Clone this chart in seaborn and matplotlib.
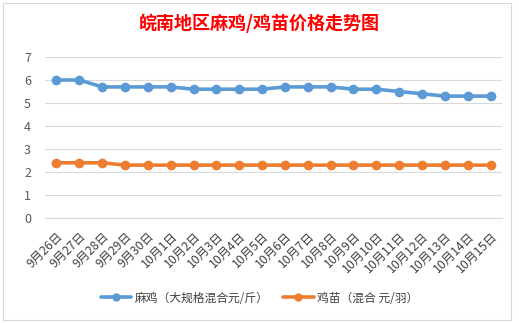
import matplotlib
matplotlib.use("Agg")
import matplotlib.pyplot as plt
import seaborn as sns
import pandas as pd
import numpy as np
from matplotlib.patches import Rectangle
from matplotlib.lines import Line2D

dates = ["9月26日", "9月27日", "9月28日", "9月29日", "9月30日",
         "10月1日", "10月2日", "10月3日", "10月4日", "10月5日",
         "10月6日", "10月7日", "10月8日", "10月9日", "10月10日",
         "10月11日", "10月12日", "10月13日", "10月14日", "10月15日"]
maji = [6.0, 6.0, 5.7, 5.7, 5.7, 5.7, 5.6, 5.6, 5.6, 5.6,
        5.7, 5.7, 5.7, 5.6, 5.6, 5.5, 5.4, 5.3, 5.3, 5.3]
jimiao = [2.4, 2.4, 2.4, 2.3, 2.3, 2.3, 2.3, 2.3, 2.3, 2.3,
          2.3, 2.3, 2.3, 2.3, 2.3, 2.3, 2.3, 2.3, 2.3, 2.3]
series_names = ["麻鸡（大规格混合元/斤）", "鸡苗（混合 元/羽）"]
title = "皖南地区麻鸡/鸡苗价格走势图"
yticks = [0, 1, 2, 3, 4, 5, 6, 7]

sns.set_theme(style="white")
plt.rcParams['font.family'] = ['Noto Sans CJK SC', 'DejaVu Sans']

df = pd.DataFrame({
    "date": dates * 2,
    "value": maji + jimiao,
    "series": [series_names[0]] * len(dates) + [series_names[1]] * len(dates),
})
df["x"] = list(range(len(dates))) * 2

fig = plt.figure(figsize=(5.19, 3.23), dpi=100)
fig.patch.set_facecolor("white")
fig.add_artist(Rectangle((3 / 519, 3 / 323), 508 / 519, 317 / 323, transform=fig.transFigure,
                         fill=False, edgecolor="#D9D9D9", linewidth=0.8))

ax = fig.add_axes([45 / 519, 1 - 218 / 323, 457 / 519, (218 - 57) / 323])
palette = {series_names[0]: "#5B9BD5", series_names[1]: "#ED7D31"}
sns.lineplot(data=df, x="x", y="value", hue="series", palette=palette, marker="o",
             markersize=7, markeredgewidth=0, linewidth=2.6, sort=False, ax=ax, legend=False)

n = len(dates)
ax.set_xlim(-0.5, n - 0.5)
ax.set_ylim(0, 7)
ax.set_yticks(yticks)
ax.set_yticklabels([str(t) for t in yticks], color="#595959", fontsize=9)
ax.set_xticks(range(n))
ax.set_xticklabels(dates, rotation=45, ha="right", rotation_mode="anchor",
                   color="#404040", fontsize=8.8)
ax.set_xticks(np.arange(-0.5, n, 1.0), minor=True)
ax.tick_params(axis="x", which="major", length=0, pad=8)
ax.tick_params(axis="x", which="minor", length=4, color="#D9D9D9", width=0.8, direction="out")
ax.tick_params(axis="y", length=0, pad=10)
ax.grid(axis="y", color="#D9D9D9", linewidth=0.8)
ax.grid(axis="x", visible=False)
for s in ["top", "right", "left"]:
    ax.spines[s].set_visible(False)
ax.spines["bottom"].set_color("#D9D9D9")
ax.spines["bottom"].set_linewidth(0.8)
ax.set_xlabel("")
ax.set_ylabel("")

fig.text(0.5, 1 - 23 / 323, title, ha="center", va="center", color="#FF0000",
         fontsize=13, fontweight="bold")

handles = [Line2D([0], [0], color=palette[s], linewidth=2.6, marker="o", markersize=6,
                  markeredgewidth=0) for s in series_names]
fig.legend(handles, series_names, loc="center", bbox_to_anchor=(0.5, 1 - 298 / 323),
           ncol=2, frameon=False, fontsize=8.5, handlelength=2.6, columnspacing=1.2,
           handletextpad=0.3, labelcolor="#404040")

fig.savefig("out.png", dpi=100)
